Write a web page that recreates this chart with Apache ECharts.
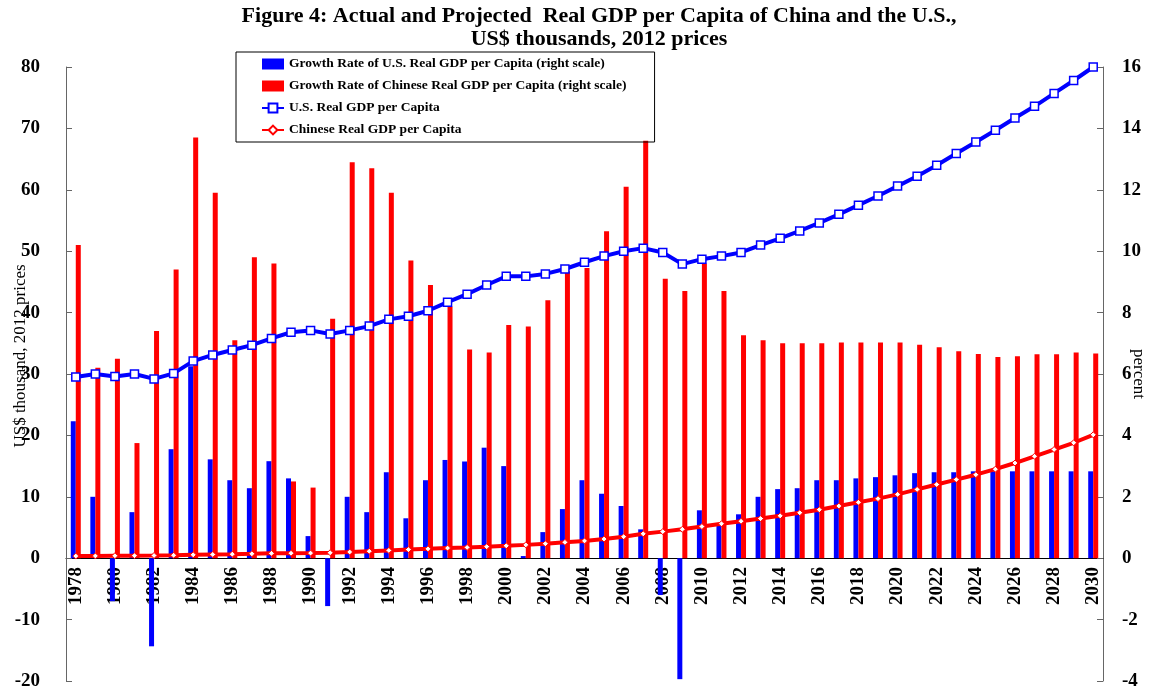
<!DOCTYPE html>
<html>
<head>
<meta charset="utf-8">
<script src="https://cdn.jsdelivr.net/npm/echarts@6/dist/echarts.min.js"></script>
<style>
  html, body { margin: 0; padding: 0; background: #fff; }
  .chart { width: 1151px; height: 691px; }
</style>
</head>
<body>
<div class="chart"></div>
<script>
var years = ['1978', '1979', '1980', '1981', '1982', '1983', '1984', '1985', '1986', '1987',
    '1988', '1989', '1990', '1991', '1992', '1993', '1994', '1995', '1996', '1997',
    '1998', '1999', '2000', '2001', '2002', '2003', '2004', '2005', '2006', '2007',
    '2008', '2009', '2010', '2011', '2012', '2013', '2014', '2015', '2016', '2017',
    '2018', '2019', '2020', '2021', '2022', '2023', '2024', '2025', '2026', '2027',
    '2028', '2029', '2030'];

// growth rates, percent (right scale)
var usGrowth = [4.46, 2.0, -1.4, 1.5, -2.87, 3.55, 6.25, 3.22, 2.54, 2.28,
    3.16, 2.6, 0.72, -1.56, 2.0, 1.5, 2.8, 1.3, 2.54, 3.2,
    3.15, 3.6, 3.0, 0.07, 0.85, 1.6, 2.54, 2.1, 1.7, 0.94,
    -1.2, -3.94, 1.56, 1.1, 1.43, 2.0, 2.25, 2.28, 2.54, 2.54,
    2.6, 2.64, 2.7, 2.77, 2.8, 2.8, 2.83, 2.83, 2.83, 2.83,
    2.83, 2.83, 2.83];
var cnGrowth = [10.2, 6.2, 6.5, 3.75, 7.4, 9.4, 13.7, 11.9, 7.1, 9.8,
    9.6, 2.5, 2.3, 7.8, 12.9, 12.7, 11.9, 9.7, 8.9, 8.2,
    6.8, 6.7, 7.6, 7.55, 8.4, 9.35, 9.45, 10.65, 12.1, 13.6,
    9.1, 8.7, 9.6, 8.7, 7.26, 7.1, 7.0, 7.0, 7.0, 7.03,
    7.03, 7.03, 7.03, 6.95, 6.87, 6.74, 6.65, 6.55, 6.58, 6.64,
    6.64, 6.7, 6.67];

// real GDP per capita, US$ thousands (left scale)
var usGdp = [29.5, 30.0, 29.6, 30.0, 29.2, 30.1, 32.1, 33.1, 33.9, 34.7,
    35.8, 36.8, 37.1, 36.5, 37.1, 37.8, 38.9, 39.4, 40.3, 41.7,
    43.0, 44.5, 45.9, 45.9, 46.3, 47.1, 48.2, 49.2, 50.0, 50.5,
    49.8, 47.9, 48.7, 49.2, 49.8, 51.0, 52.1, 53.3, 54.6, 56.0,
    57.5, 59.0, 60.6, 62.2, 64.0, 65.9, 67.8, 69.7, 71.7, 73.6,
    75.7, 77.8, 80.0];
var cnGdp = [0.35, 0.37, 0.40, 0.41, 0.44, 0.48, 0.55, 0.61, 0.66, 0.72,
    0.79, 0.81, 0.83, 0.89, 1.01, 1.14, 1.27, 1.40, 1.52, 1.65,
    1.76, 1.88, 2.02, 2.17, 2.36, 2.58, 2.82, 3.12, 3.50, 3.97,
    4.33, 4.71, 5.16, 5.61, 6.02, 6.45, 6.9, 7.4, 7.9, 8.5,
    9.1, 9.7, 10.4, 11.2, 12.0, 12.8, 13.6, 14.5, 15.5, 16.6,
    17.7, 18.8, 20.1];

(function () {
    var myChart = echarts.init(document.querySelector(".chart"));
    var serif = '"Liberation Serif", "Times New Roman", serif';

    var option = {
        animation: false,
        title: {
            text: 'Figure 4: Actual and Projected  Real GDP per Capita of China and the U.S.,\nUS$ thousands, 2012 prices',
            left: 594,
            top: 0,
            textAlign: 'center',
            textStyle: {
                fontFamily: serif,
                fontWeight: 'bold',
                fontSize: 22,
                lineHeight: 23,
                color: '#000'
            }
        },
        legend: {
            orient: 'vertical',
            left: 236,
            top: 52,
            padding: [5, 28, 5, 25],
            borderColor: '#000',
            borderWidth: 1,
            itemWidth: 22,
            itemHeight: 11,
            itemGap: 8,
            textStyle: {
                fontFamily: serif,
                fontWeight: 'bold',
                fontSize: 13.5,
                color: '#000'
            },
            data: [
                { name: 'Growth Rate of U.S. Real GDP per Capita (right scale)', icon: 'rect' },
                { name: 'Growth Rate of Chinese Real GDP per Capita (right scale)', icon: 'rect' },
                'U.S. Real GDP per Capita',
                'Chinese Real GDP per Capita'
            ]
        },
        grid: {
            left: 66,
            right: 48,
            top: 67,
            bottom: 10,
            containLabel: false,
            outerBoundsMode: 'none'
        },
        xAxis: {
            type: 'category',
            data: years,
            boundaryGap: true,
            // sit the axis on the zero line (123px above the grid bottom)
            offset: -123,
            axisLine: { onZero: false, lineStyle: { color: '#000', width: 1 } },
            axisTick: { inside: true, length: 5, interval: 0, lineStyle: { color: '#555' } },
            axisLabel: {
                interval: 1,
                rotate: 90,
                margin: 9,
                fontFamily: serif,
                fontWeight: 'bold',
                fontSize: 19,
                color: '#000'
            },
            splitLine: { show: false }
        },
        yAxis: [
            {
                type: 'value',
                min: -20,
                max: 80,
                interval: 10,
                name: 'US$ thousand, 2012 prices',
                nameLocation: 'middle',
                nameGap: 37,
                nameMoveOverlap: false,
                nameTextStyle: { fontFamily: serif, fontSize: 17, color: '#000', padding: [0, 0, 0, 36] },
                axisLine: { show: true, onZero: false, lineStyle: { color: '#666' } },
                axisTick: { show: true, inside: true, length: 6, lineStyle: { color: '#666' } },
                axisLabel: {
                    margin: 26,
                    fontFamily: serif,
                    fontWeight: 'bold',
                    fontSize: 19,
                    color: '#000'
                },
                splitLine: { show: false }
            },
            {
                type: 'value',
                min: -4,
                max: 16,
                interval: 2,
                name: 'percent',
                nameLocation: 'middle',
                nameRotate: -90,
                nameGap: 27,
                nameMoveOverlap: false,
                nameTextStyle: { fontFamily: serif, fontSize: 17, color: '#000' },
                axisLine: { show: true, onZero: false, lineStyle: { color: '#666' } },
                axisTick: { show: true, inside: true, length: 6, lineStyle: { color: '#666' } },
                axisLabel: {
                    margin: 19,
                    fontFamily: serif,
                    fontWeight: 'bold',
                    fontSize: 19,
                    color: '#000'
                },
                splitLine: { show: false }
            }
        ],
        series: [
            {
                name: 'Growth Rate of U.S. Real GDP per Capita (right scale)',
                type: 'bar',
                yAxisIndex: 1,
                barWidth: 5,
                barGap: '0%',
                itemStyle: { color: '#0000ff' },
                data: usGrowth
            },
            {
                name: 'Growth Rate of Chinese Real GDP per Capita (right scale)',
                type: 'bar',
                yAxisIndex: 1,
                barWidth: 5,
                barGap: '0%',
                itemStyle: { color: '#ff0000' },
                data: cnGrowth
            },
            {
                name: 'U.S. Real GDP per Capita',
                type: 'line',
                yAxisIndex: 0,
                z: 5,
                symbol: 'rect',
                symbolSize: 8,
                showAllSymbol: true,
                lineStyle: { color: '#0000ff', width: 4 },
                itemStyle: { color: '#fff', borderColor: '#0000ff', borderWidth: 1.5 },
                data: usGdp
            },
            {
                name: 'Chinese Real GDP per Capita',
                type: 'line',
                yAxisIndex: 0,
                z: 6,
                symbol: 'diamond',
                symbolSize: 6,
                showAllSymbol: true,
                lineStyle: { color: '#ff0000', width: 4 },
                itemStyle: { color: '#fff', borderColor: '#ff0000', borderWidth: 1 },
                data: cnGdp
            }
        ]
    };

    myChart.setOption(option);
    window.addEventListener("resize", function () {
        myChart.resize();
    });
})();
</script>
</body>
</html>
